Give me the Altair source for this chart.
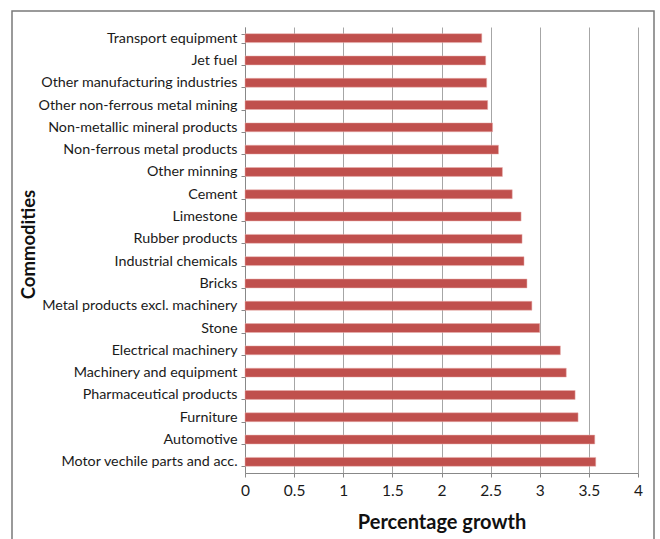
import altair as alt
import pandas as pd

# Commodities listed top to bottom as they appear on the axis
commodities = [
    "Transport equipment",
    "Jet fuel",
    "Other manufacturing industries",
    "Other non-ferrous metal mining",
    "Non-metallic mineral products",
    "Non-ferrous metal products",
    "Other minning",
    "Cement",
    "Limestone",
    "Rubber products",
    "Industrial chemicals",
    "Bricks",
    "Metal products excl. machinery",
    "Stone",
    "Electrical machinery",
    "Machinery and equipment",
    "Pharmaceutical products",
    "Furniture",
    "Automotive",
    "Motor vechile parts and acc.",
]
growth = [
    2.41, 2.45, 2.46, 2.47, 2.52, 2.58, 2.62, 2.72, 2.81, 2.82,
    2.84, 2.87, 2.92, 3.00, 3.21, 3.27, 3.36, 3.39, 3.56, 3.57,
]
x_ticks = [0, 0.5, 1, 1.5, 2, 2.5, 3, 3.5, 4]

df = pd.DataFrame({"commodity": commodities, "growth": growth})

FONT = "Lato"
BAR = "#C0504D"
GRID = "#a6a6a6"

bars = alt.Chart(df).mark_bar(color=BAR, stroke="#e8b0ae", strokeWidth=0.5).encode(
    y=alt.Y(
        "commodity:N",
        sort=commodities,
        scale=alt.Scale(paddingInner=0.6, paddingOuter=0.3),
        axis=alt.Axis(
            title="Commodities",
            titleFont=FONT,
            titleFontSize=18.5,
            titleFontWeight="bold",
            titleColor="#111",
            titleAngle=270,
            titleX=-217,
            titleY=217,
            titleAlign="center",
            titleBaseline="middle",
            labelFont=FONT,
            labelFontSize=14.3,
            labelColor="#1a1a1a",
            labelPadding=4,
            labelLimit=300,
            tickBand="extent",
            tickSize=4,
            tickColor="#888",
            domainColor="#888",
            grid=False,
        ),
    ),
    x=alt.X(
        "growth:Q",
        scale=alt.Scale(domain=[0, 4], nice=False),
        axis=alt.Axis(
            title="Percentage growth",
            titleFont=FONT,
            titleFontSize=20,
            titleFontWeight="bold",
            titleColor="#111",
            titleY=49,
            titleBaseline="middle",
            values=x_ticks,
            format="~g",
            labelFont=FONT,
            labelFontSize=15.5,
            labelColor="#1a1a1a",
            labelPadding=6,
            labelFlush=False,
            tickSize=4,
            tickColor="#888",
            domainColor="#888",
            grid=True,
            gridColor=GRID,
            gridWidth=1,
        ),
    ),
)

# Frame drawn around the whole figure
frame = alt.Chart(alt.Data(values=[{}])).mark_rect(
    fill=None, stroke="#7a7a7a", strokeWidth=1.5
).encode(
    x=alt.value(-233), x2=alt.value(409), y=alt.value(-16), y2=alt.value(600)
)

chart = alt.layer(frame, bars).properties(
    width=393,
    height=446,
    autosize=alt.AutoSizeParams(type="none"),
    padding={"left": 245, "top": 27, "right": 22, "bottom": 66},
    background="white",
).configure_view(stroke=None)

chart.save("out.html", embed_options={"renderer": "svg", "actions": False})
